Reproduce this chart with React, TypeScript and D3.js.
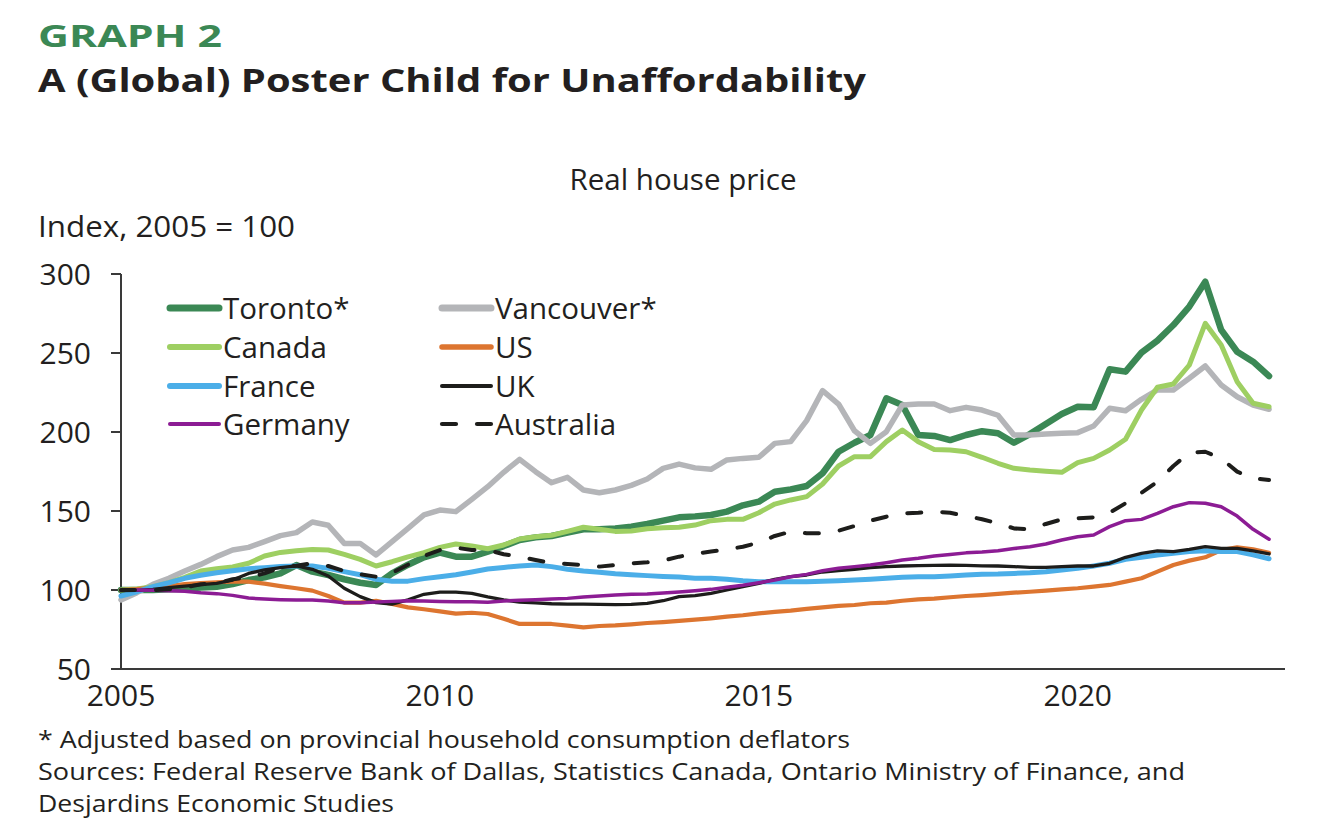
import React from "react"
import * as d3 from "d3"

const W = 1318
const H = 834
const FONT = "'Open Sans', 'Noto Sans', sans-serif"
const INK = "#231f20"

// plot box (px)
const PLOT = { left: 121, right: 1285, top: 274, bottom: 669 }

// quarterly categories, 2005Q1 .. 2023Q2 (last slot of the axis has no data)
const quarters = d3
  .range(2005, 2024)
  .flatMap(y => [1, 2, 3, 4].map(q => `${y}Q${q}`))
  .slice(0, 74)

const yearTicks = ["2005Q1", "2010Q1", "2015Q1", "2020Q1"]
const yearLabels = ["2005", "2010", "2015", "2020"]
const yTicks = [50, 100, 150, 200, 250, 300]

// Real house price, index 2005 = 100, 2005Q1..2023Q1
const toronto = [
  100, 100, 100, 100.4, 100.8, 101.5, 102.1, 103.8, 106.3, 108, 110.5, 115.8, 111.6, 109.5, 106.8, 104.6, 103.2, 110.5, 116,
  120.7, 123.6, 121.1, 121.1, 124.3, 127.8, 131.6, 133.3, 134.2, 136.3, 138.4, 138.4, 139, 140.1, 141.8, 143.9, 146, 146.6,
  147.5, 149.6, 153.6, 155.9, 162.2, 163.7, 165.8, 173.9, 187.5, 193.2, 198.1, 221.3, 217.1, 198.1, 197.5, 194.9, 198.1, 200.5,
  199.2, 193.2, 198.7, 205.1, 211.4, 216, 215.6, 239.7, 238.2, 250.2, 257.8, 267.7, 279.4, 295.1, 264.6, 250.8, 244.5, 235.4,
]
const vancouver = [
  93.7, 98.3, 103.6, 107.4, 112, 116.2, 121.1, 125.3, 127, 130.6, 134.4, 136.3, 143, 141, 129.5, 129.5, 122.2, 130.6, 139,
  147.5, 150.6, 149.6, 157.4, 165.4, 174.5, 182.7, 174.9, 167.9, 171.3, 163.3, 161.6, 163.3, 166.2, 170.3, 177, 179.7, 177.3,
  176.4, 182.3, 183.3, 184, 192.8, 193.9, 207.2, 226.2, 217.7, 200.8, 192.8, 200.2, 217.1, 217.7, 217.7, 213.5, 215.6, 213.9,
  210.6, 198.1, 198.1, 198.7, 199.2, 199.6, 203.8, 215, 213.5, 220.7, 226.6, 226.6, 234, 241.8, 229.7, 222.3, 217.1, 214.4,
]
const canada = [
  100, 100.6, 102.1, 104.6, 108, 112, 113.5, 114.6, 116.9, 121.5, 123.8, 124.9, 125.7, 125.3, 122.6, 119.4, 115.2, 117.9, 121,
  123.6, 127, 129.1, 127.8, 126.1, 128.5, 132.3, 133.7, 134.6, 137.1, 139.7, 138.4, 137.1, 137.3, 138.8, 139.4, 139.7, 141.1,
  143.9, 144.7, 144.7, 148.9, 154.4, 157, 159.1, 167.1, 178.5, 184.4, 184.4, 193.9, 201.3, 193.9, 189, 188.6, 187.5, 184,
  180.2, 177, 175.9, 175.1, 174.5, 180.6, 183.3, 188.6, 195.4, 213.9, 228.3, 230.4, 242.4, 268.8, 255, 231.8, 218.2, 216,
]
const us = [
  100, 100.6, 101.5, 102.5, 103.8, 104.4, 104.9, 105.3, 105.3, 104, 102.5, 101.1, 99.6, 96.2, 92, 92, 93.2, 91.1, 89,
  87.8, 86.5, 85, 85.6, 84.8, 81.8, 78.5, 78.5, 78.5, 77.4, 76.4, 77.2, 77.6, 78.3, 79.1, 79.7, 80.4, 81.3,
  82.1, 83.1, 84, 85.2, 86.1, 86.9, 88, 89, 89.9, 90.5, 91.6, 92, 93.2, 94.1, 94.5, 95.4, 96.2, 96.8,
  97.5, 98.3, 98.9, 99.6, 100.4, 101.1, 102.1, 103.2, 105.3, 107.4, 111.6, 115.8, 118.6, 120.7, 125.3, 127, 125.7, 123.6,
]
const france = [
  96.2, 98.9, 102.1, 104.6, 107.4, 109.3, 110.9, 112.2, 113.5, 114.1, 114.8, 115.2, 115.2, 113.7, 111.6, 109.7, 106.8, 105.5, 105.6,
  107.2, 108.4, 109.7, 111.4, 113.3, 114.3, 115.2, 115.8, 114.8, 113.1, 112, 111.2, 110.3, 109.7, 109.1, 108.6, 108.2, 107.5,
  107.4, 106.8, 105.9, 105.3, 105.3, 105.3, 105.3, 105.5, 105.9, 106.3, 106.8, 107.4, 108, 108.4, 108.4, 108.9, 109.5, 110,
  110.1, 110.5, 110.9, 111.6, 112.7, 113.7, 115.2, 116.9, 119.4, 120.7, 122.2, 123.2, 124.3, 124.9, 124.3, 124.3, 122.2, 119.8,
]
const uk = [
  99.6, 99.8, 100.4, 101.5, 102.5, 103.4, 104.2, 106.3, 110.5, 112.7, 114.1, 115.2, 113.1, 108.9, 101.1, 95.8, 92, 91.1, 93.8,
  97.3, 98.7, 98.7, 97.9, 95.6, 93.7, 92.4, 91.8, 91.3, 91.1, 91.1, 90.9, 90.7, 90.9, 91.6, 93.2, 95.8, 96.5,
  97.9, 100, 102.1, 104.2, 106.8, 108.4, 109.5, 111.4, 112.2, 113.1, 114.1, 114.8, 115.2, 115.4, 115.6, 115.8, 115.6, 115.3,
  115.2, 114.8, 114.3, 114.3, 114.8, 115.2, 115.2, 116.9, 120.7, 123.2, 124.7, 124.3, 125.7, 127.4, 126.4, 126.4, 124.7, 122.8,
]
const germany = [
  100, 100, 99.8, 99.6, 99.2, 98.3, 97.7, 96.6, 94.9, 94.3, 93.9, 93.7, 93.7, 93, 92, 92, 92.4, 92.8, 93.2,
  93, 92.8, 92.6, 92.6, 92.2, 93, 93.5, 93.9, 94.3, 94.7, 95.6, 96.2, 96.8, 97.3, 97.5, 98.1, 98.7, 99.5,
  100.4, 101.7, 103, 104.6, 106.3, 108.4, 109.9, 112.2, 113.7, 114.8, 115.8, 117.3, 119, 120.1, 121.5, 122.4, 123.5, 124,
  124.8, 126.2, 127.4, 129.1, 131.6, 133.7, 134.8, 140.1, 143.9, 144.7, 148.5, 152.7, 155.3, 154.9, 152.7, 146.8, 138.4, 132.1,
]
const australia = [
  100, 100, 100, 100.4, 101.7, 103.6, 104.2, 106.8, 108, 110.5, 114.3, 115.4, 116.9, 115.2, 112, 109.9, 108.4, 110.9, 116,
  121.5, 125.3, 126.8, 125.3, 125.3, 122.6, 121.1, 119, 116.9, 116.5, 115.8, 114.8, 115.8, 116.9, 117.5, 118.6, 121.1, 123,
  124.3, 125.7, 127.4, 130, 134.2, 136.9, 135.9, 135.9, 137.5, 140.5, 143.9, 146.4, 148.5, 148.9, 149.6, 148.9, 146.8, 144.8,
  142.2, 139, 138.4, 141.8, 144.7, 145.4, 146, 148.9, 154.9, 161.6, 168.5, 178.5, 186.9, 187.5, 183.3, 174.9, 170.7, 169.6,
]

// draw order = Excel series order (last on top)
const SERIES = [
  { key: "toronto", label: "Toronto*", values: toronto, color: "#3b8855", width: 6.5, legendW: 7, dash: null },
  { key: "vancouver", label: "Vancouver*", values: vancouver, color: "#b4b5b8", width: 5.5, legendW: 7, dash: null },
  { key: "canada", label: "Canada", values: canada, color: "#9ecf62", width: 5, legendW: 6, dash: null },
  { key: "us", label: "US", values: us, color: "#dd7530", width: 4.2, legendW: 5.5, dash: null },
  { key: "france", label: "France", values: france, color: "#4baee8", width: 5, legendW: 6, dash: null },
  { key: "uk", label: "UK", values: uk, color: "#1d1d1b", width: 3.3, legendW: 4, dash: null },
  { key: "germany", label: "Germany", values: germany, color: "#8c1c94", width: 3.5, legendW: 4, dash: null },
  { key: "australia", label: "Australia", values: australia, color: "#1d1d1b", width: 4, legendW: 4.2, dash: "14 21" },
]

// legend grid: [column, row]
const LEGEND_ORDER = [
  ["toronto", 0, 0],
  ["vancouver", 1, 0],
  ["canada", 0, 1],
  ["us", 1, 1],
  ["france", 0, 2],
  ["uk", 1, 2],
  ["germany", 0, 3],
  ["australia", 1, 3],
]
const LEGEND_COL_X = [168, 440]
const LEGEND_ROW_Y = [308, 347, 386, 424]

export default function App() {
  const x = d3.scalePoint<string>().domain(quarters).range([PLOT.left, PLOT.right])
  const y = d3.scaleLinear().domain([50, 300]).range([PLOT.bottom, PLOT.top])

  const line = d3
    .line<number>()
    .x((_, i) => x(quarters[i]) as number)
    .y(d => y(d))
    .curve(d3.curveLinear)

  return (
    <div style={{ position: "absolute", left: 0, top: 0, background: "#fff" }}>
      <svg width={W} height={H} viewBox={`0 0 ${W} ${H}`} style={{ display: "block", fontFamily: FONT }}>
        <rect width={W} height={H} fill="#fff" />

        <text x={38} y={47} fontSize={31} fontWeight={700} fill="#3b8855" textLength={184} lengthAdjust="spacingAndGlyphs">
          GRAPH 2
        </text>
        <text x={38} y={92} fontSize={33} fontWeight={700} fill={INK} textLength={828} lengthAdjust="spacingAndGlyphs">
          A (Global) Poster Child for Unaffordability
        </text>

        <text x={683} y={190} fontSize={29.5} fill={INK} textAnchor="middle" textLength={227} lengthAdjust="spacingAndGlyphs">
          Real house price
        </text>
        <text x={38} y={237} fontSize={30} fill={INK} textLength={257} lengthAdjust="spacingAndGlyphs">
          Index, 2005 = 100
        </text>

        {/* y axis */}
        <line x1={PLOT.left} x2={PLOT.left} y1={PLOT.top} y2={PLOT.bottom} stroke="#3a3a3a" strokeWidth={2} />
        {yTicks.map(t => (
          <g key={t}>
            <line x1={PLOT.left - 10} x2={PLOT.left} y1={y(t)} y2={y(t)} stroke="#3a3a3a" strokeWidth={2} />
            <text x={91} y={y(t)} dy="0.36em" fontSize={30} fill={INK} textAnchor="end">
              {t}
            </text>
          </g>
        ))}

        {/* x axis */}
        <line x1={PLOT.left} x2={PLOT.right} y1={PLOT.bottom} y2={PLOT.bottom} stroke="#3a3a3a" strokeWidth={2} />
        {yearTicks.map((q, i) => (
          <text key={q} x={x(q)} y={706} fontSize={30} fill={INK} textAnchor="middle">
            {yearLabels[i]}
          </text>
        ))}

        {/* series */}
        {SERIES.map(s => (
          <path
            key={s.key}
            d={line(s.values) ?? ""}
            fill="none"
            stroke={s.color}
            strokeWidth={s.width}
            strokeLinejoin="round"
            strokeLinecap="round"
            strokeDasharray={s.dash ?? undefined}
          />
        ))}

        {/* legend */}
        {LEGEND_ORDER.map(([key, col, row]) => {
          const s = SERIES.find(d => d.key === key)!
          const lx = LEGEND_COL_X[col as number]
          const ly = LEGEND_ROW_Y[row as number]
          return (
            <g key={key as string}>
              {s.dash ? (
                <>
                  <line x1={lx + 2} x2={lx + 16} y1={ly} y2={ly} stroke={s.color} strokeWidth={s.legendW} strokeLinecap="round" />
                  <line x1={lx + 37} x2={lx + 51} y1={ly} y2={ly} stroke={s.color} strokeWidth={s.legendW} strokeLinecap="round" />
                </>
              ) : (
                <line x1={lx + 2} x2={lx + 51} y1={ly} y2={ly} stroke={s.color} strokeWidth={s.legendW} strokeLinecap="round" />
              )}
              <text x={lx + 55} y={ly} dy="0.36em" fontSize={29.5} fill={INK}>
                {s.label}
              </text>
            </g>
          )
        })}

        {/* notes */}
        <text x={38} y={748} fontSize={24} fill={INK} textLength={812} lengthAdjust="spacingAndGlyphs">
          * Adjusted based on provincial household consumption deflators
        </text>
        <text x={38} y={780} fontSize={24} fill={INK} textLength={1147} lengthAdjust="spacingAndGlyphs">
          Sources: Federal Reserve Bank of Dallas, Statistics Canada, Ontario Ministry of Finance, and
        </text>
        <text x={38} y={812} fontSize={24} fill={INK} textLength={356} lengthAdjust="spacingAndGlyphs">
          Desjardins Economic Studies
        </text>
      </svg>
    </div>
  )
}
